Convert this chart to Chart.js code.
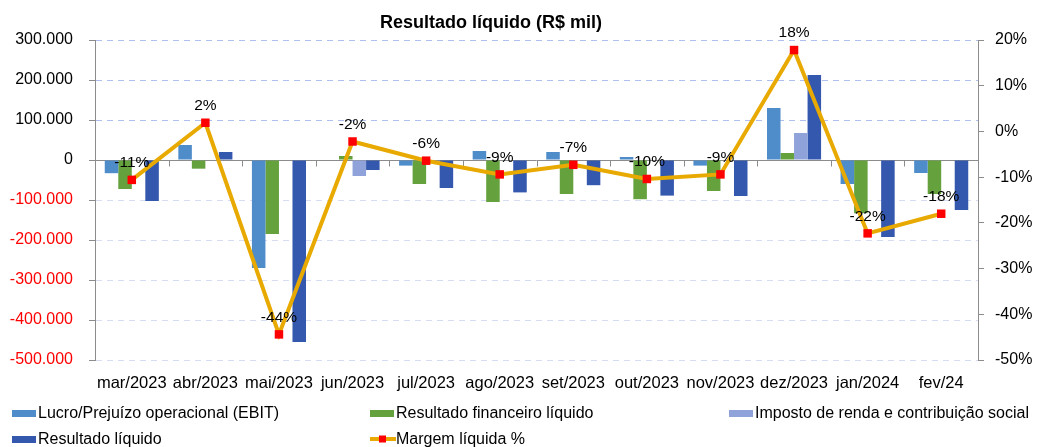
<!DOCTYPE html>
<html>
<head>
<meta charset="utf-8">
<script src="https://cdn.jsdelivr.net/npm/chart.js@4.4.1/dist/chart.umd.min.js"></script>
<style>
  html, body { margin: 0; padding: 0; background: #ffffff; }
  #wrap { width: 1042px; height: 447px; position: relative; }
</style>
</head>
<body>
<div id="wrap"><canvas id="c"></canvas></div>
<script>
const categories = ['mar/2023','abr/2023','mai/2023','jun/2023','jul/2023','ago/2023','set/2023','out/2023','nov/2023','dez/2023','jan/2024','fev/24'];
const ebit       = [-33000, 37500, -270000, 0, -14000, 22500, 20000, 7500, -14000, 130000, -60000, -32500];
const financeiro = [-72500, -21700, -185000, 10000, -60000, -105000, -85000, -98000, -77500, 17500, -133000, -85000];
const imposto    = [0, 0, 0, -40000, 0, 0, 0, 0, 0, 67500, 0, 0];
const resultado  = [-102500, 20000, -455000, -25000, -70000, -81000, -63000, -89000, -90000, 212500, -192500, -125000];
const margem     = [-10.6, 1.9, -44.4, -2.2, -6.4, -9.4, -7.3, -10.4, -9.4, 17.8, -22.3, -18.0];
const leftTicks  = [300000, 200000, 100000, 0, -100000, -200000, -300000, -400000, -500000];
const rightTicks = [20, 10, 0, -10, -20, -30, -40, -50];
const chartTitle = 'Resultado líquido (R$ mil)';
const seriesNames = ['Lucro/Prejuízo operacional (EBIT)', 'Resultado financeiro líquido', 'Imposto de renda e contribuição social', 'Resultado líquido', 'Margem líquida %'];

const FONT = "'Liberation Sans', Arial, sans-serif";
const colors = ['#4f8cca', '#65a23e', '#8fa3da', '#3358ad'];
const lineColor = '#e8a900';

function fmtThousands(v) {
  const s = String(Math.abs(v)).replace(/\B(?=(\d{3})+(?!\d))/g, '.');
  return (v < 0 ? '-' : '') + s;
}

const customDraw = {
  id: 'customDraw',
  beforeDatasetsDraw(chart) {
    const { ctx, chartArea, scales } = chart;
    const y0 = Math.round(scales.y.getPixelForValue(0)) + 0.5;
    ctx.save();
    ctx.strokeStyle = '#8c8c8c';
    ctx.lineWidth = 1;
    ctx.beginPath();
    ctx.moveTo(chartArea.left, y0);
    ctx.lineTo(chartArea.right, y0);
    const xs = scales.x;
    for (let i = 1; i < categories.length; i++) {
      const xb = Math.round((xs.getPixelForTick(i - 1) + xs.getPixelForTick(i)) / 2) + 0.5;
      ctx.moveTo(xb, y0);
      ctx.lineTo(xb, y0 + 6);
    }
    ctx.stroke();
    ctx.restore();
  },
  afterDatasetsDraw(chart) {
    const { ctx } = chart;
    const meta = chart.getDatasetMeta(4);
    ctx.save();
    ctx.font = '15.5px ' + FONT;
    ctx.fillStyle = '#000';
    ctx.textAlign = 'center';
    ctx.textBaseline = 'middle';
    meta.data.forEach((pt, i) => {
      ctx.fillText(Math.round(margem[i]) + '%', pt.x, pt.y - 17);
    });
    ctx.restore();
  },
  afterDraw(chart) {
    const { ctx } = chart;
    ctx.save();
    // title
    ctx.font = 'bold 18px ' + FONT;
    ctx.fillStyle = '#000';
    ctx.textAlign = 'center';
    ctx.textBaseline = 'middle';
    ctx.fillText(chartTitle, 491, 23);
    // legend
    const slots = [
      { x: 12, y: 413, w: 248 },
      { x: 370, y: 413, w: 207 },
      { x: 729, y: 413, w: 285 },
      { x: 12, y: 439, w: 130 },
      { x: 370, y: 439, w: 135 }
    ];
    ctx.font = '16px ' + FONT;
    ctx.textAlign = 'left';
    chart.data.datasets.forEach((ds, i) => {
      const s = slots[i];
      if (i < 4) {
        ctx.fillStyle = colors[i];
        ctx.fillRect(s.x, s.y - 3, 24, 7);
      } else {
        ctx.strokeStyle = lineColor;
        ctx.lineWidth = 4;
        ctx.beginPath();
        ctx.moveTo(s.x, s.y);
        ctx.lineTo(s.x + 26, s.y);
        ctx.stroke();
        ctx.fillStyle = '#ff0000';
        ctx.fillRect(s.x + 9, s.y - 3.5, 7, 7);
      }
      ctx.fillStyle = '#000';
      const tw = ctx.measureText(ds.label).width;
      if (tw > s.w) ctx.fillText(ds.label, s.x + 26, s.y + 1, s.w);
      else ctx.fillText(ds.label, s.x + 26, s.y + 1);
    });
    ctx.restore();
  }
};

const barCommon = { yAxisID: 'y', order: 1, categoryPercentage: 0.735, barPercentage: 1.0, borderWidth: 0 };

new Chart(document.getElementById('c'), {
  type: 'bar',
  data: {
    labels: categories,
    datasets: [
      Object.assign({ label: seriesNames[0], data: ebit, backgroundColor: colors[0] }, barCommon),
      Object.assign({ label: seriesNames[1], data: financeiro, backgroundColor: colors[1] }, barCommon),
      Object.assign({ label: seriesNames[2], data: imposto, backgroundColor: colors[2] }, barCommon),
      Object.assign({ label: seriesNames[3], data: resultado, backgroundColor: colors[3] }, barCommon),
      {
        type: 'line', label: seriesNames[4], data: margem, yAxisID: 'y1', order: 0,
        borderColor: lineColor, borderWidth: 4, tension: 0,
        pointStyle: 'rect', pointRadius: 6, pointHoverRadius: 6,
        pointBackgroundColor: '#ff0000', pointBorderColor: '#ff0000', pointBorderWidth: 0
      }
    ]
  },
  options: {
    responsive: true,
    maintainAspectRatio: false,
    animation: false,
    layout: { padding: { top: 40, bottom: 47, left: 0, right: 0 } },
    plugins: { legend: { display: false }, title: { display: false }, tooltip: { enabled: false } },
    scales: {
      x: {
        grid: { display: false, drawTicks: false },
        border: { display: false },
        ticks: { font: { family: FONT, size: 16.5 }, color: '#000', maxRotation: 0, minRotation: 0, autoSkip: false, padding: 14 },
        afterFit(scale) { scale.height = 40; }
      },
      y: {
        position: 'left',
        min: -500000, max: 300000,
        afterBuildTicks(scale) { scale.ticks = leftTicks.map(v => ({ value: v })); },
        ticks: {
          font: { family: FONT, size: 16 },
          color: (c) => (c.tick && c.tick.value < 0 ? '#ff0000' : '#000000'),
          padding: 16,
          callback: (v) => fmtThousands(v)
        },
        grid: {
          color: (c) => {
            if (!c.tick) return '#c0cdf0';
            if (c.tick.value === 0) return 'rgba(0,0,0,0)';
            return c.tick.value > 0 ? '#aec0ee' : '#d6dcf3';
          },
          lineWidth: 1,
          tickLength: 6,
          tickColor: '#8c8c8c',
          tickBorderDash: []
        },
        border: { display: true, color: '#8c8c8c', width: 1, dash: [6, 5] },
        afterFit(scale) { scale.width = 95; }
      },
      y1: {
        position: 'right',
        min: -50, max: 20,
        afterBuildTicks(scale) { scale.ticks = rightTicks.map(v => ({ value: v })); },
        ticks: { font: { family: FONT, size: 16 }, color: '#000', padding: 11, callback: (v) => v + '%' },
        grid: { drawOnChartArea: false, tickLength: 6, tickColor: '#8c8c8c' },
        border: { display: true, color: '#8c8c8c', width: 1 },
        afterFit(scale) { scale.width = 64; }
      }
    }
  },
  plugins: [customDraw]
});
</script>
</body>
</html>
